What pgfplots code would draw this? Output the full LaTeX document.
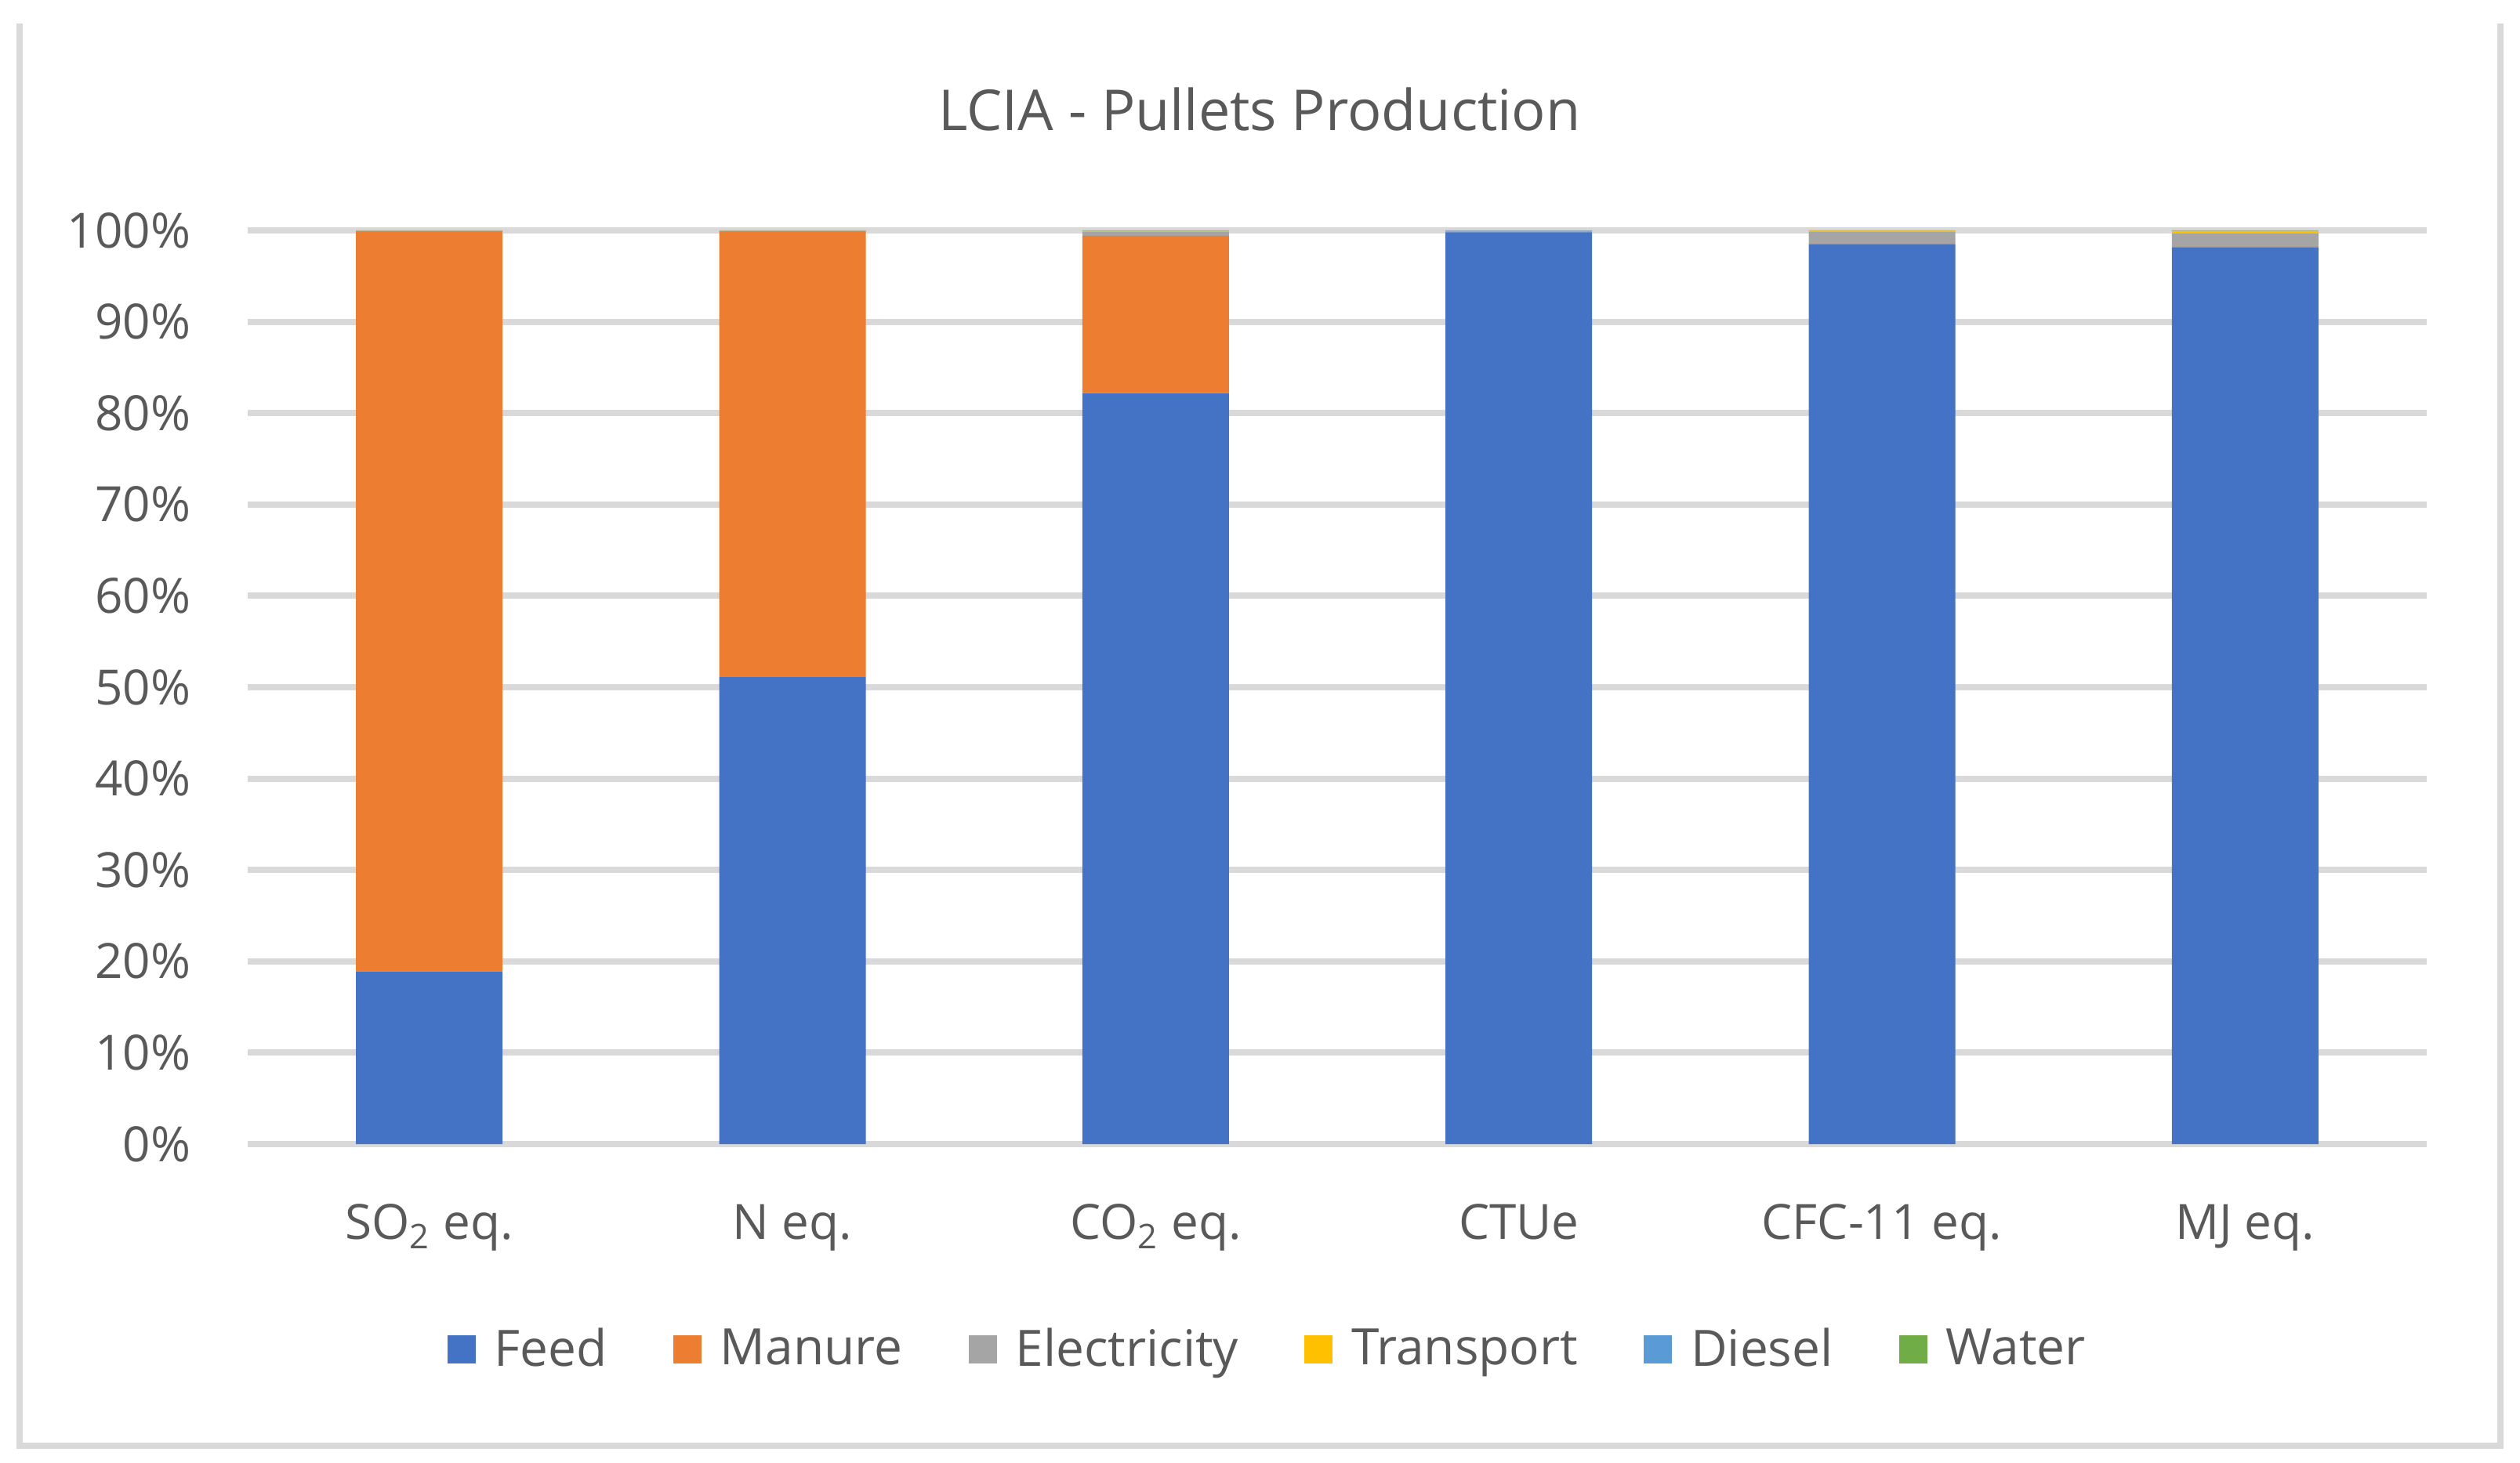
\documentclass[border=0pt]{standalone}
\usepackage{pgfplots}
\pgfplotsset{compat=1.18}
\usepackage{pgfplotstable}
\usepackage{fontspec}
\setmainfont{Open Sans}

\definecolor{cFeed}{HTML}{4472C4}
\definecolor{cManure}{HTML}{ED7D31}
\definecolor{cElec}{HTML}{A5A5A5}
\definecolor{cTrans}{HTML}{FFC000}
\definecolor{cDiesel}{HTML}{5B9BD5}
\definecolor{cWater}{HTML}{70AD47}
\definecolor{txt}{HTML}{595959}
\definecolor{grd}{HTML}{D9D9D9}

% shares in percent, one row per impact category
\pgfplotstableread{
x Feed  Manure Electricity Transport Diesel Water
0 18.9  81.0   0.05        0.02      0.03   0.00
1 51.1  48.8   0.05        0.02      0.03   0.00
2 82.2  17.2   0.45        0.10      0.05   0.00
3 99.8  0.00   0.15        0.00      0.05   0.00
4 98.45 0.10   1.30        0.12      0.02   0.01
5 98.1  0.10   1.45        0.30      0.03   0.02
}\lcia

\begin{document}
\begin{tikzpicture}
\useasboundingbox (0,0) rectangle (803.75pt,466.5pt);
% chart area frame
\draw[grd, line width=2pt] (6.25pt,459pt) -- (6.25pt,5.25pt) -- (797.5pt,5.25pt) -- (797.5pt,459pt);
\node[txt, font=\fontsize{18}{20}\selectfont] at (401.75pt,431.5pt) {LCIA - Pullets Production};
\begin{axis}[
    at={(79pt,101.5pt)}, anchor=south west,
    scale only axis,
    width=695pt, height=291.5pt,
    ybar stacked,
    bar width=46.75pt,
    xmin=-0.5, xmax=5.5,
    ymin=0, ymax=100,
    xtick=data,
    xticklabels={SO\textsubscript{2} eq., N eq., CO\textsubscript{2} eq., CTUe, CFC-11 eq., MJ eq.},
    ytick={0,10,...,100},
    yticklabels={0\%,10\%,20\%,30\%,40\%,50\%,60\%,70\%,80\%,90\%,100\%},
    axis line style={draw=none},
    major tick length=0pt,
    ymajorgrids,
    grid style={grd, line width=2pt},
    tick label style={txt, font=\fontsize{15.5}{18}\selectfont},
    yticklabel style={anchor=east, inner sep=0pt, xshift=-18pt},
    xticklabel style={anchor=north, inner sep=0pt, yshift=-19pt},
    legend columns=6,
    legend style={draw=none, at={(0.469,-0.2247)}, anchor=center,
        font=\fontsize{16}{18}\selectfont, text=txt,
        /tikz/every odd column/.append style={column sep=4pt},
        /tikz/every even column/.append style={column sep=19pt}},
    legend image code/.code={\fill[#1] (0pt,-4.5pt) rectangle (9pt,4.5pt);},
    every axis plot/.append style={draw=none},
]
\addplot[fill=cFeed] table[x=x, y=Feed] {\lcia};
\addplot[fill=cManure] table[x=x, y=Manure] {\lcia};
\addplot[fill=cElec] table[x=x, y=Electricity] {\lcia};
\addplot[fill=cTrans] table[x=x, y=Transport] {\lcia};
\addplot[fill=cDiesel] table[x=x, y=Diesel] {\lcia};
\addplot[fill=cWater] table[x=x, y=Water] {\lcia};
\legend{Feed, Manure, Electricity, Transport, Diesel, Water}
\end{axis}
\end{tikzpicture}
\end{document}
